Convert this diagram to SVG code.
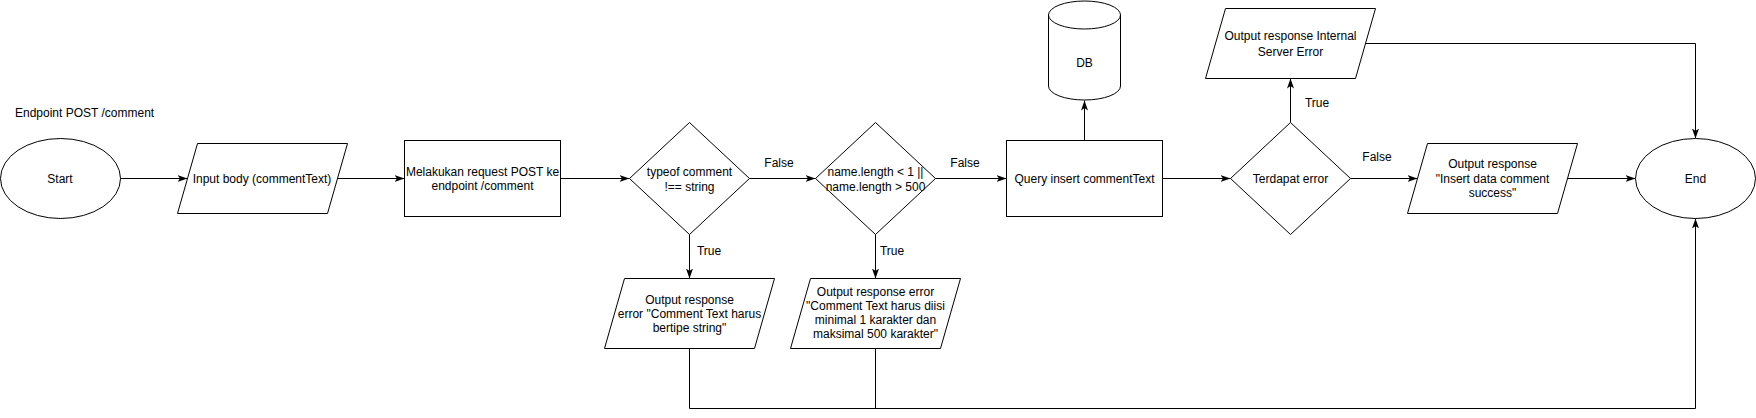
<svg xmlns="http://www.w3.org/2000/svg" width="1756" height="418" viewBox="0 0 1756 418">
<style>
.s{fill:#fff;stroke:#000;stroke-width:1}
.t{font-family:"Liberation Sans",Arial,sans-serif;font-size:12px;fill:#000;text-anchor:middle}
.l{fill:none;stroke:#000;stroke-width:1}
</style>
<defs>
<marker id="a" markerUnits="userSpaceOnUse" markerWidth="10" markerHeight="10" viewBox="0 0 10 10" refX="10" refY="5" orient="auto">
<path d="M0,1.5 L10,5 L0,8.5 L2.5,5 Z" fill="#000"/>
</marker>
</defs>
<rect width="1756" height="418" fill="#fff"/>
<text class="t" x="15" y="117" style="text-anchor:start">Endpoint POST /comment</text>
<g id="start"><ellipse class="s" cx="60.5" cy="178.5" rx="60" ry="40"/><text class="t" x="60" y="182.5">Start</text></g>
<g id="input"><path class="s" d="M197.5,143.5 L347.5,143.5 L327.5,213.5 L177.5,213.5 Z"/><text class="t" x="262" y="182.5">Input body (commentText)</text></g>
<g id="request"><rect class="s" x="404.5" y="140.5" width="156" height="76"/><text class="t" x="482.5" y="175.5">Melakukan request POST ke</text><text class="t" x="482.5" y="190">endpoint /comment</text></g>
<g id="check1"><path class="s" d="M689.5,122.5 L749.5,178.5 L689.5,234.5 L629.5,178.5 Z"/><text class="t" x="689.5" y="176">typeof comment</text><text class="t" x="689.5" y="190.5">!== string</text></g>
<g id="check2"><path class="s" d="M875.5,122.5 L935.5,178.5 L875.5,234.5 L815.5,178.5 Z"/><text class="t" x="875.5" y="176">name.length &lt; 1 ||</text><text class="t" x="875.5" y="190.5">name.length &gt; 500</text></g>
<g id="query"><rect class="s" x="1006.5" y="140.5" width="156" height="76"/><text class="t" x="1084.5" y="182.5">Query insert commentText</text></g>
<g id="db"><path class="s" d="M1048.5,15 A36,14 0 0 1 1120.5,15 L1120.5,86 A36,14 0 0 1 1048.5,86 Z"/><path class="l" d="M1048.5,15 A36,14 0 0 0 1120.5,15"/><text class="t" x="1084.5" y="67">DB</text></g>
<g id="errcheck"><path class="s" d="M1290.5,122.5 L1350.5,178.5 L1290.5,234.5 L1230.5,178.5 Z"/><text class="t" x="1290.5" y="182.5">Terdapat error</text></g>
<g id="ise"><path class="s" d="M1225.5,8.5 L1375.5,8.5 L1355.5,78.5 L1205.5,78.5 Z"/><text class="t" x="1290.5" y="40">Output response Internal</text><text class="t" x="1290.5" y="55.5">Server Error</text></g>
<g id="success"><path class="s" d="M1427.5,143.5 L1577.5,143.5 L1557.5,213.5 L1407.5,213.5 Z"/><text class="t" x="1492.5" y="168">Output response</text><text class="t" x="1492.5" y="182.5">"Insert data comment</text><text class="t" x="1492.5" y="197">success"</text></g>
<g id="end"><ellipse class="s" cx="1695.5" cy="178.5" rx="60" ry="40"/><text class="t" x="1695.5" y="182.5">End</text></g>
<g id="err1"><path class="s" d="M624.5,278.5 L774.5,278.5 L754.5,348.5 L604.5,348.5 Z"/><text class="t" x="689.5" y="303.5">Output response</text><text class="t" x="689.5" y="317.5">error "Comment Text harus</text><text class="t" x="689.5" y="331.5">bertipe string"</text></g>
<g id="err2"><path class="s" d="M810.5,278.5 L960.5,278.5 L940.5,348.5 L790.5,348.5 Z"/><text class="t" x="875.5" y="296">Output response error</text><text class="t" x="875.5" y="310">"Comment Text harus diisi</text><text class="t" x="875.5" y="324.3">minimal 1 karakter dan</text><text class="t" x="875.5" y="338.4">maksimal 500 karakter"</text></g>
<g id="connectors">
<path class="l" d="M120.5,178.5 L187.5,178.5" marker-end="url(#a)"/>
<path class="l" d="M337.5,178.5 L404.5,178.5" marker-end="url(#a)"/>
<path class="l" d="M560.5,178.5 L629.5,178.5" marker-end="url(#a)"/>
<path class="l" d="M749.5,178.5 L815.5,178.5" marker-end="url(#a)"/>
<path class="l" d="M935.5,178.5 L1006.5,178.5" marker-end="url(#a)"/>
<path class="l" d="M1084.5,140.5 L1084.5,100.5" marker-end="url(#a)"/>
<path class="l" d="M1162.5,178.5 L1230.5,178.5" marker-end="url(#a)"/>
<path class="l" d="M1290.5,122.5 L1290.5,78.5" marker-end="url(#a)"/>
<path class="l" d="M1350.5,178.5 L1417.5,178.5" marker-end="url(#a)"/>
<path class="l" d="M1567.5,178.5 L1635.5,178.5" marker-end="url(#a)"/>
<path class="l" d="M1365.5,43.5 L1695.5,43.5 L1695.5,138.5" marker-end="url(#a)"/>
<path class="l" d="M689.5,234.5 L689.5,278.5" marker-end="url(#a)"/>
<path class="l" d="M875.5,234.5 L875.5,278.5" marker-end="url(#a)"/>
<path class="l" d="M689.5,348.5 L689.5,408.5 L1695.5,408.5 L1695.5,218.5" marker-end="url(#a)"/>
<path class="l" d="M875.5,348.5 L875.5,408.5"/>
<text class="t" x="779" y="167">False</text>
<text class="t" x="965" y="167">False</text>
<text class="t" x="1377" y="161">False</text>
<text class="t" x="1317" y="107">True</text>
<text class="t" x="709" y="255">True</text>
<text class="t" x="892" y="255">True</text>
</g>
</svg>
